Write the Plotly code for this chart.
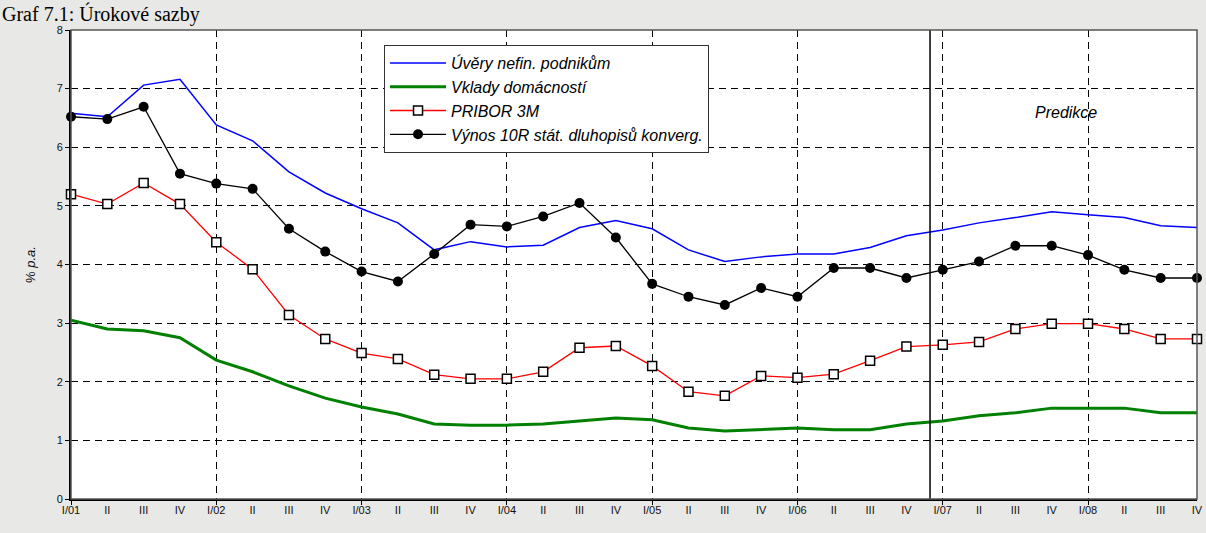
import plotly.graph_objects as go

# ---------------- data ----------------
years = ["01", "02", "03", "04", "05", "06", "07", "08"]
quarter_labels = []
for yy in years:
    quarter_labels += ["I/" + yy, "II", "III", "IV"]
x_idx = list(range(len(quarter_labels)))

uvery = [6.58, 6.52, 7.06, 7.16, 6.38, 6.11, 5.58, 5.22, 4.95, 4.71, 4.25, 4.39,
         4.30, 4.33, 4.63, 4.75, 4.61, 4.25, 4.05, 4.13, 4.18, 4.18, 4.29, 4.49,
         4.59, 4.71, 4.80, 4.90, 4.85, 4.80, 4.66, 4.63]
vklady = [3.05, 2.90, 2.87, 2.75, 2.37, 2.17, 1.93, 1.72, 1.57, 1.45, 1.28, 1.26,
          1.26, 1.28, 1.33, 1.38, 1.35, 1.21, 1.16, 1.19, 1.21, 1.18, 1.18, 1.28,
          1.33, 1.42, 1.47, 1.55, 1.55, 1.55, 1.47, 1.47]
pribor = [5.20, 5.03, 5.39, 5.03, 4.38, 3.92, 3.14, 2.73, 2.49, 2.39, 2.12, 2.05,
          2.05, 2.17, 2.58, 2.61, 2.27, 1.83, 1.76, 2.10, 2.07, 2.13, 2.36, 2.60,
          2.63, 2.68, 2.90, 2.99, 2.99, 2.90, 2.73, 2.73]
vynos = [6.52, 6.48, 6.69, 5.55, 5.38, 5.29, 4.61, 4.22, 3.88, 3.71, 4.18, 4.68,
         4.65, 4.82, 5.05, 4.46, 3.67, 3.45, 3.31, 3.60, 3.45, 3.94, 3.94, 3.77,
         3.91, 4.05, 4.32, 4.32, 4.16, 3.91, 3.77, 3.77]

series_names = ["Úvěry nefin. podnikům", "Vklady domácností", "PRIBOR 3M",
                "Výnos 10R stát. dluhopisů konverg."]
prediction_start = 23.65
prediction_label = "Predikce"
prediction_label_pos = (27.4, 6.6)
title_text = "Graf 7.1: Úrokové sazby"
y_title = "% <i>p.a.</i>"

FONT = "Liberation Sans, Arial, sans-serif"

fig = go.Figure()
fig.add_trace(go.Scatter(x=x_idx, y=uvery, name=series_names[0], mode="lines",
                         line=dict(color="#0000ff", width=1.5), legendgroup="a",
                         cliponaxis=False))
fig.add_trace(go.Scatter(x=x_idx, y=vklady, name=series_names[1], mode="lines",
                         line=dict(color="#008000", width=3), legendgroup="b",
                         cliponaxis=False))
fig.add_trace(go.Scatter(x=x_idx, y=pribor, name=series_names[2], mode="lines+markers",
                         line=dict(color="#ff0000", width=1.3),
                         marker=dict(symbol="square", size=9, color="white",
                                     line=dict(color="black", width=1.5)),
                         legendgroup="c", cliponaxis=False))
fig.add_trace(go.Scatter(x=x_idx, y=vynos, name=series_names[3], mode="lines+markers",
                         line=dict(color="black", width=1.3),
                         marker=dict(symbol="circle", size=10, color="black"),
                         legendgroup="d", cliponaxis=False))
# overlay axis used only for the yearly dashed gridlines
fig.add_trace(go.Scatter(x=x_idx, y=uvery, xaxis="x2", mode="lines",
                         line=dict(width=0), showlegend=False, hoverinfo="skip",
                         opacity=0))

fig.add_shape(type="line", x0=prediction_start, x1=prediction_start, y0=0, y1=1,
              xref="x", yref="paper", line=dict(color="black", width=1.5))
fig.add_shape(type="rect", x0=0, x1=1, y0=0, y1=1, xref="paper", yref="paper",
              line=dict(color="#555555", width=1.5), layer="above")

fig.add_annotation(x=prediction_label_pos[0], y=prediction_label_pos[1],
                   text=prediction_label, showarrow=False,
                   font=dict(family=FONT, size=16, color="black", style="italic"))
fig.add_annotation(x=-0.063, y=1 + 30 / 469, xref="paper", yref="paper", xanchor="left",
                   yanchor="top", text=title_text, showarrow=False,
                   font=dict(family="Liberation Serif, Times New Roman, serif",
                             size=20, color="black"))

fig.update_layout(
    width=1206, height=533,
    margin=dict(l=71, r=9, t=30, b=34, autoexpand=False),
    paper_bgcolor="#e8e8e6", plot_bgcolor="white",
    font=dict(family=FONT, size=11, color="#111111"),
    showlegend=True,
    legend=dict(x=0.278, y=0.968, xanchor="left", yanchor="top",
                bgcolor="white", bordercolor="#333333", borderwidth=1,
                font=dict(family=FONT, size=16, color="black", style="italic"),
                traceorder="grouped", tracegroupgap=0, itemwidth=56),
    xaxis=dict(range=[0, 31], tickmode="array", tickvals=x_idx,
               ticktext=quarter_labels, showgrid=False, zeroline=False,
               showline=True, linecolor="black", linewidth=2, automargin=False,
               ticks="", tickfont=dict(size=11)),
    xaxis2=dict(range=[0, 31], overlaying="x", side="bottom", dtick=4, tick0=0,
                showgrid=True, gridcolor="black", gridwidth=1, griddash="7px,5px",
                showticklabels=False, ticks="outside", ticklen=5, automargin=False,
                tickcolor="black", zeroline=False, showline=False),
    yaxis=dict(range=[0, 8], dtick=1, showgrid=True, gridcolor="black", gridwidth=1,
               griddash="7px,5px", zeroline=False, showline=True, linecolor="black",
               linewidth=2, ticks="outside", ticklen=4, tickcolor="black",
               tickfont=dict(size=11), automargin=False,
               title=dict(text=y_title, font=dict(size=13), standoff=18)),
)

fig.write_html("out.html", config={"displayModeBar": False},
               post_script="document.body.style.margin='0';document.body.style.overflow='hidden';")
